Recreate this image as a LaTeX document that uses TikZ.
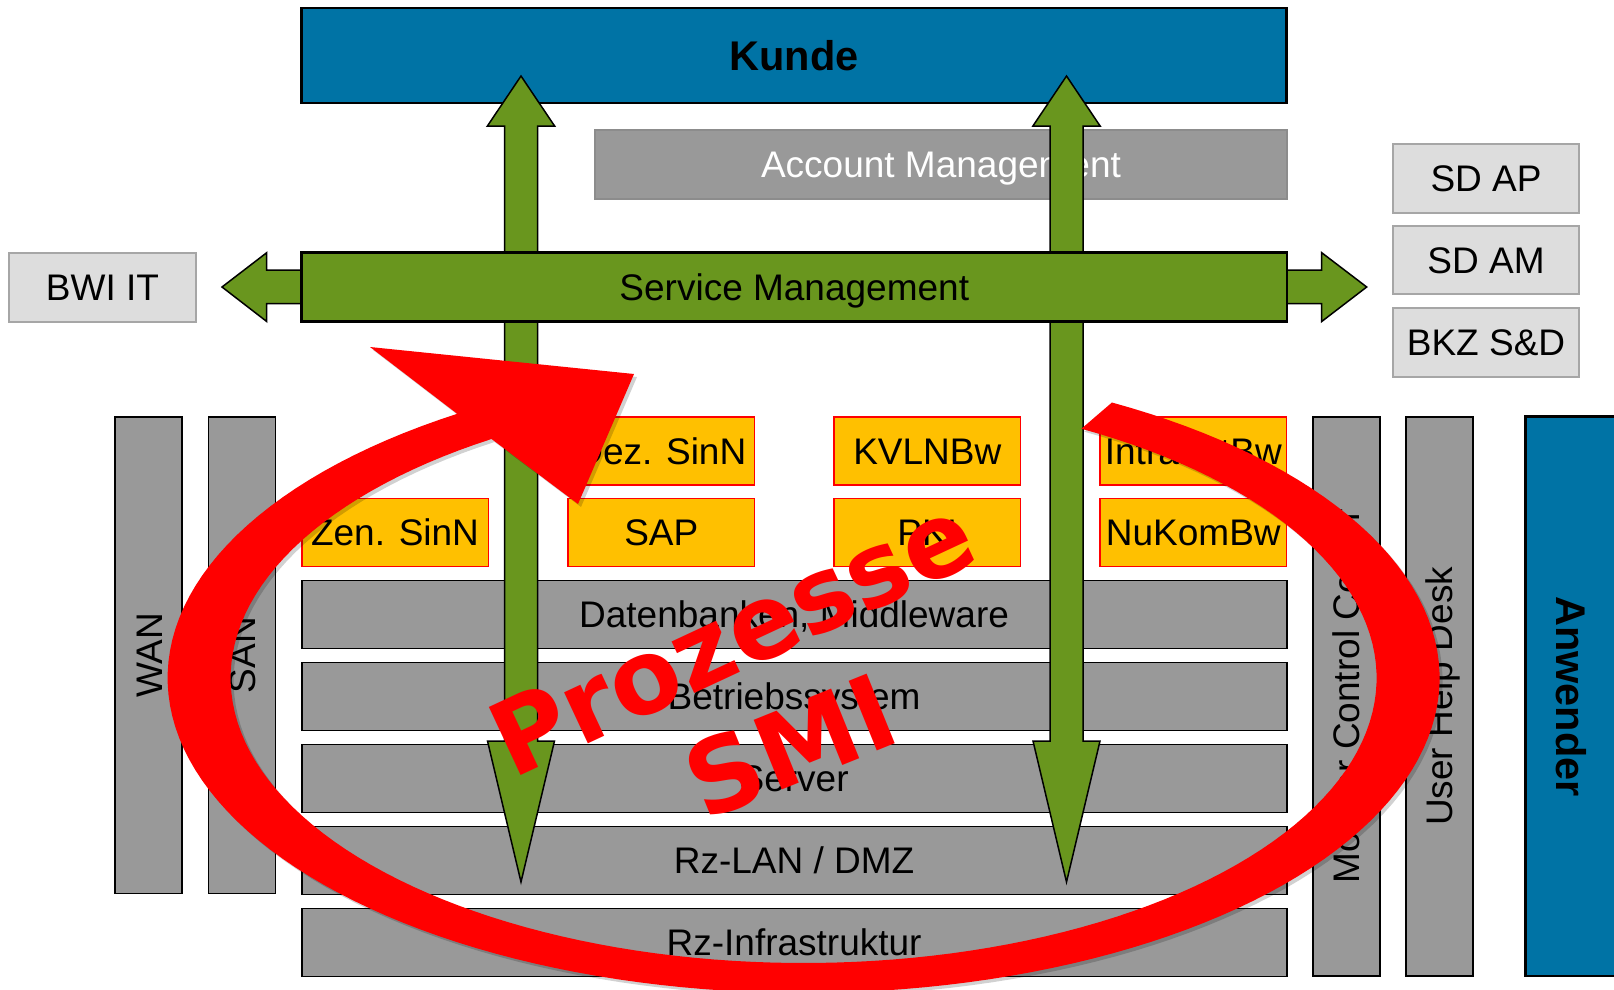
\documentclass[tikz,border=0pt]{standalone}
\usepackage{fontspec}
\setmainfont{Liberation Sans}
\newfontfamily\heavyfont{DejaVu Sans}
\definecolor{kblue}{RGB}{0,115,165}
\definecolor{lgray}{RGB}{153,153,153}
\definecolor{pgray}{RGB}{221,221,221}
\definecolor{pborder}{RGB}{166,166,166}
\definecolor{sgreen}{RGB}{105,150,30}
\definecolor{syellow}{RGB}{255,192,0}
\definecolor{amborder}{RGB}{140,140,140}
\tikzset{
  txt/.style={font=\fontsize{37}{40}\selectfont, text height=26.5pt, text depth=0pt, inner sep=0pt, outer sep=0pt},
  btxt/.style={font=\bfseries\fontsize{41.5}{44}\selectfont, text height=29.7pt, text depth=0pt, inner sep=0pt, outer sep=0pt},
  layer/.style={txt, draw=black, line width=1.8pt, fill=lgray, minimum width=985pt, minimum height=68pt},
  ybox/.style={txt, draw=red, line width=1.5pt, fill=syellow, minimum width=186.5pt, minimum height=68pt},
  pbox/.style={txt, draw=pborder, line width=2pt, fill=pgray, minimum width=186.6pt, minimum height=68.4pt},
  vcol/.style={txt, draw=black, line width=1.8pt, fill=lgray, rotate=90, minimum height=67pt},
  garrow/.style={fill=sgreen, draw=black, line width=1.5pt, line join=miter},
  redtxt/.style={font=\heavyfont\bfseries\fontsize{103}{103}\selectfont, text=red, inner sep=0pt}
}
\begin{document}
\begin{tikzpicture}[x=1pt, y=-1pt]
\useasboundingbox (0,0) rectangle (1614,990);
\clip (0,0) rectangle (1614,990);
\fill[white] (0,0) rectangle (1614,990);

% top boxes
\node[btxt, draw=black, line width=2.5pt, fill=kblue, minimum width=985pt, minimum height=95pt] (kunde) at (794.1,55.6) {Kunde};
\node[txt, text=white, draw=amborder, line width=2pt, fill=lgray, minimum width=692pt, minimum height=69.3pt] (am) at (941,164.7) {Account Management};

% side boxes
\node[pbox] (bwi) at (102.5,287.5) {BWI IT};
\node[pbox] (sdap) at (1486,178.5) {SD AP};
\node[pbox] (sdam) at (1486,260.2) {SD AM};
\node[pbox] (bkz) at (1486,342.5) {BKZ S\&D};

% vertical columns
\node[vcol, minimum width=476.8pt] (wan) at (148.85,655.1) {WAN};
\node[vcol, minimum width=476.8pt] (san) at (242,655.1) {SAN};
\node[vcol, minimum width=559.3pt] (mcc) at (1346.5,696.35) {Monitor Control Center};
\node[vcol, minimum width=559.3pt] (uhd) at (1439.7,696.35) {User Help Desk};
\node[btxt, rotate=-90, draw=black, line width=2.5pt, fill=kblue, minimum width=559.3pt, minimum height=92.5pt] (anw) at (1571.75,696.35) {Anwender};

% layers
\node[layer] (db) at (794.1,614.5) {Datenbanken, Middleware};
\node[layer] (bs) at (794.1,696.5) {Betriebssystem};
\node[layer] (srv) at (794.1,778.5) {Server};
\node[layer] (lan) at (794.1,860.5) {Rz-LAN / DMZ};
\node[layer] (infra) at (794.1,942.5) {Rz-Infrastruktur};

% yellow boxes
\node[ybox] (zen) at (395,532.5) {Zen. SinN};
\node[ybox] (dez) at (661.3,451) {Dez. SinN};
\node[ybox] (sap) at (661.3,532.5) {SAP};
\node[ybox] (kvl) at (927.3,451) {KVLNBw};
\node[ybox] (pki) at (927.3,532.5) {PKI};
\node[ybox] (intra) at (1193.3,451) {IntranetBw};
\node[ybox] (nukom) at (1193.3,532.5) {NuKomBw};

% vertical double arrows
\foreach \c in {521,1066.5} {
  \draw[garrow] (\c,76) -- (\c+33.6,126) -- (\c+16.5,126) -- (\c+16.5,741)
    -- (\c+33.5,741) -- (\c,882) -- (\c-33.5,741) -- (\c-16.5,741)
    -- (\c-16.5,126) -- (\c-33.6,126) -- cycle;
}

% horizontal double arrow + service management
\draw[garrow] (222,287) -- (266.7,252.7) -- (266.7,270) -- (1321.7,270) -- (1321.7,252.7)
  -- (1366.7,287) -- (1321.7,321.5) -- (1321.7,303.5) -- (266.7,303.5) -- (266.7,321.5) -- cycle;
\node[txt, draw=black, line width=2.5pt, fill=sgreen, minimum width=985.4pt, minimum height=68.8pt] (sm) at (794.3,287.1) {Service Management};

% red circular arrow (shadow, then shape)
\begin{scope}[shift={(3,3)}]
\fill[black, opacity=0.18] plot[domain=61:-237, samples=150] ({803.6+636*cos(\x)}, {678-315*sin(\x)})
  -- (370,347) -- (634,374) -- (578,504)
  -- plot[domain=-237:61, samples=150] ({803.6+573*cos(\x)}, {678-285*sin(\x)}) -- cycle;
\end{scope}
\fill[red] plot[domain=61:-237, samples=150] ({803.6+636*cos(\x)}, {678-315*sin(\x)})
  -- (370,347) -- (634,374) -- (578,504)
  -- plot[domain=-237:61, samples=150] ({803.6+573*cos(\x)}, {678-285*sin(\x)}) -- cycle;

% red text
\node[redtxt, rotate=25] (proz) at (732,636) {Prozesse};
\node[redtxt, rotate=22] (smi) at (790,746) {SMI};
\end{tikzpicture}
\end{document}
